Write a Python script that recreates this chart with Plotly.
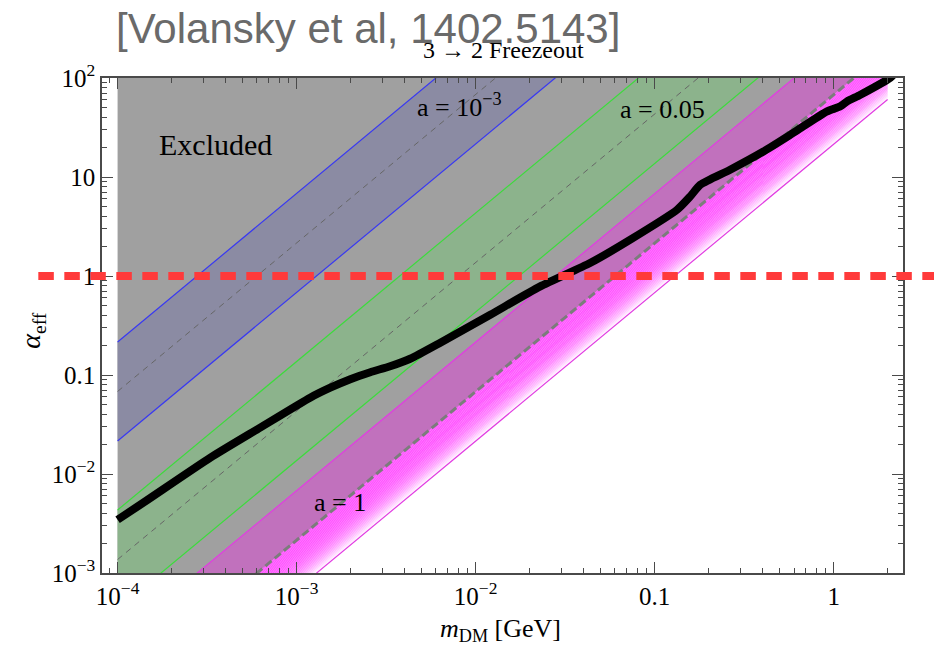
import numpy as np
import plotly.graph_objects as go

# ---------------------------------------------------------------------------
# Data
# ---------------------------------------------------------------------------
# 3 -> 2 freeze-out requirement (thick black curve)
m_curve = [1.0e-4, 1.40e-4, 3.30e-4, 6.26e-4, 1.19e-3, 1.542e-3, 1.995e-3, 2.58e-3,
           3.33e-3, 4.31e-3, 6.35e-3, 1.208e-2, 2.296e-2, 4.38e-2, 7.31e-2, 0.1334,
           0.158, 0.180, 0.264, 0.405, 0.596, 0.918, 1.09, 1.188, 1.41, 2.07, 2.2]
alpha_curve = [3.45e-3, 5.16e-3, 1.462e-2, 2.94e-2, 5.9e-2, 7.44e-2, 9.07e-2, 0.1067,
               0.1227, 0.146, 0.212, 0.406, 0.785, 1.36, 2.33, 4.67,
               6.37, 8.36, 11.85, 18.1, 28.0, 46.0, 51.7, 58.0, 67.8, 100.7, 112.0]

# Bands alpha_eff = A * (m / GeV)^1.5 for fixed a; A given on the dashed centre line
band_slope = 1.5
band_names = ["a = 10<sup>−3</sup>", "a = 0.05", "a = 1"]
band_center_A = [6.82e4, 1.368e3, 67.9]
band_halfwidth = 10 ** 0.5
band_line_colors = ["#3838f2", "#3cdc3c", "#e23ce2"]
band_fill_colors = ["#8b8ba3", "#8cb38c", "#c171bd"]

m_min, m_max = 1e-4, 2.0

x_ticks = [1e-4, 1e-3, 1e-2, 0.1, 1]
x_ticktext = ["10<sup>−4</sup>", "10<sup>−3</sup>", "10<sup>−2</sup>", "0.1", "1"]
y_ticks = [1e-3, 1e-2, 0.1, 1, 10, 100]
y_ticktext = ["10<sup>−3</sup>", "10<sup>−2</sup>", "0.1", "1", "10", "10<sup>2</sup>"]

# label positions (m, alpha)
label_pos = [(8.1e-3, 52.5), (0.110, 47.9), (1.75e-3, 5.1e-3)]
excluded_pos = (3.52e-4, 21.2)

SERIF = "Liberation Serif"


def power_line(A, m):
    return A * m ** band_slope


def quad(a_top, a_bot):
    xs = [m_min, m_max, m_max, m_min, m_min]
    ys = [power_line(a_top, m_min), power_line(a_top, m_max),
          power_line(a_bot, m_max), power_line(a_bot, m_min), power_line(a_top, m_min)]
    return xs, ys


fig = go.Figure()

# Excluded region: everything above the a = 1 centre line
A_edge = band_center_A[2]
fig.add_trace(go.Scatter(
    x=[m_min, m_max, m_max, m_min, m_min],
    y=[1e4, 1e4, power_line(A_edge, m_max), power_line(A_edge, m_min), 1e4],
    fill="toself", fillcolor="#a0a0a0", line=dict(width=0),
    mode="lines", hoverinfo="skip", showlegend=False))

# Shaded bands between the solid edges
for k, A in enumerate(band_center_A):
    A_hi, A_lo = A * band_halfwidth, A / band_halfwidth
    if k < 2:
        xs, ys = quad(A_hi, A_lo)
        fig.add_trace(go.Scatter(
            x=xs, y=ys, fill="toself", fillcolor=band_fill_colors[k], line=dict(width=0),
            mode="lines", hoverinfo="skip", showlegend=False))
    else:
        # upper half over the excluded region
        xs, ys = quad(A_hi, A)
        fig.add_trace(go.Scatter(
            x=xs, y=ys, fill="toself", fillcolor=band_fill_colors[k], line=dict(width=0),
            mode="lines", hoverinfo="skip", showlegend=False))
        # lower half: magenta fading to white
        n_steps = 32
        lo_log, c_log = np.log10(A_lo), np.log10(A)
        for i in range(n_steps):
            a1 = 10 ** (c_log - (c_log - lo_log) * i / n_steps)
            a2 = 10 ** (c_log - (c_log - lo_log) * (i + 1.05) / n_steps)
            t = ((i + 0.5) / n_steps) ** 3.0
            g = int(80 + (255 - 80) * t)
            xs, ys = quad(a1, a2)
            fig.add_trace(go.Scatter(
                x=xs, y=ys, fill="toself", fillcolor=f"rgb(255,{g},255)", line=dict(width=0),
                mode="lines", hoverinfo="skip", showlegend=False))

# Band edges and dashed centre lines
for k, A in enumerate(band_center_A):
    for A_line in (A * band_halfwidth, A / band_halfwidth):
        fig.add_trace(go.Scatter(
            x=[m_min, m_max], y=[power_line(A_line, m_min), power_line(A_line, m_max)],
            mode="lines", line=dict(color=band_line_colors[k], width=1.2),
            hoverinfo="skip", showlegend=False))
    if k < 2:
        dash_style = dict(color="#666666", width=1, dash="6px,5px")
    else:
        dash_style = dict(color="#7c7c7c", width=3, dash="8px,4px")
    fig.add_trace(go.Scatter(
        x=[m_min, m_max], y=[power_line(A, m_min), power_line(A, m_max)],
        mode="lines", line=dash_style, hoverinfo="skip", showlegend=False))

# Freeze-out curve
fig.add_trace(go.Scatter(
    x=m_curve, y=alpha_curve, mode="lines",
    line=dict(color="black", width=8, shape="spline", smoothing=0.6),
    hoverinfo="skip", showlegend=False))

# alpha_eff = 1 reference line
fig.add_shape(type="line", xref="paper", yref="y", x0=-0.0795, x1=1.05, y0=1, y1=1,
              line=dict(color="#ff3a3a", width=8, dash="15.5px,10.5px"), layer="above")

annotations = []
annotations.append(dict(x=np.log10(excluded_pos[0]), y=np.log10(excluded_pos[1]),
                        xref="x", yref="y", text="Excluded", showarrow=False,
                        xanchor="center", yanchor="middle",
                        font=dict(family=SERIF, size=30, color="black")))
for name, (mx, ay) in zip(band_names, label_pos):
    annotations.append(dict(x=np.log10(mx), y=np.log10(ay), xref="x", yref="y",
                            text=name, showarrow=False, xanchor="center", yanchor="middle",
                            font=dict(family=SERIF, size=26, color="black")))
annotations.append(dict(x=0.3317, y=1.099, xref="paper", yref="paper",
                        text="[Volansky et al, 1402.5143]", showarrow=False,
                        xanchor="center", yanchor="middle",
                        font=dict(family="Liberation Sans", size=42, color="#6a6a6a")))
annotations.append(dict(x=0.5008, y=1.057, xref="paper", yref="paper",
                        text="3 → 2 Freezeout", showarrow=False,
                        xanchor="center", yanchor="middle",
                        font=dict(family=SERIF, size=24, color="black")))
annotations.append(dict(x=0.497, y=-0.115, xref="paper", yref="paper",
                        text="<i>m</i><sub>DM</sub> [GeV]", showarrow=False,
                        xanchor="center", yanchor="middle",
                        font=dict(family=SERIF, size=26, color="black")))
annotations.append(dict(x=-0.087, y=0.49, xref="paper", yref="paper", textangle=-90,
                        text="<i>α</i><sub>eff</sub>", showarrow=False,
                        xanchor="center", yanchor="middle",
                        font=dict(family=SERIF, size=28, color="black")))

axis_common = dict(
    showline=True, linecolor="#4a4a4a", linewidth=1.5, mirror="allticks",
    ticks="inside", ticklen=11, tickwidth=1.2, tickcolor="#4a4a4a",
    showgrid=False, zeroline=False,
    tickfont=dict(family=SERIF, size=25, color="black"),
    minor=dict(ticks="inside", ticklen=5, tickwidth=1, tickcolor="#4a4a4a",
               tickmode="linear", dtick="D1", showgrid=False),
)

fig.update_layout(
    width=934, height=645,
    margin=dict(l=102, r=31, t=78, b=72),
    paper_bgcolor="white", plot_bgcolor="white",
    xaxis=dict(type="log", range=[-4.087, 0.387], tickmode="array",
               tickvals=x_ticks, ticktext=x_ticktext, **axis_common),
    yaxis=dict(type="log", range=[-3, 2], tickmode="array",
               tickvals=y_ticks, ticktext=y_ticktext, **axis_common),
    annotations=annotations,
)

fig.write_html("out.html")
